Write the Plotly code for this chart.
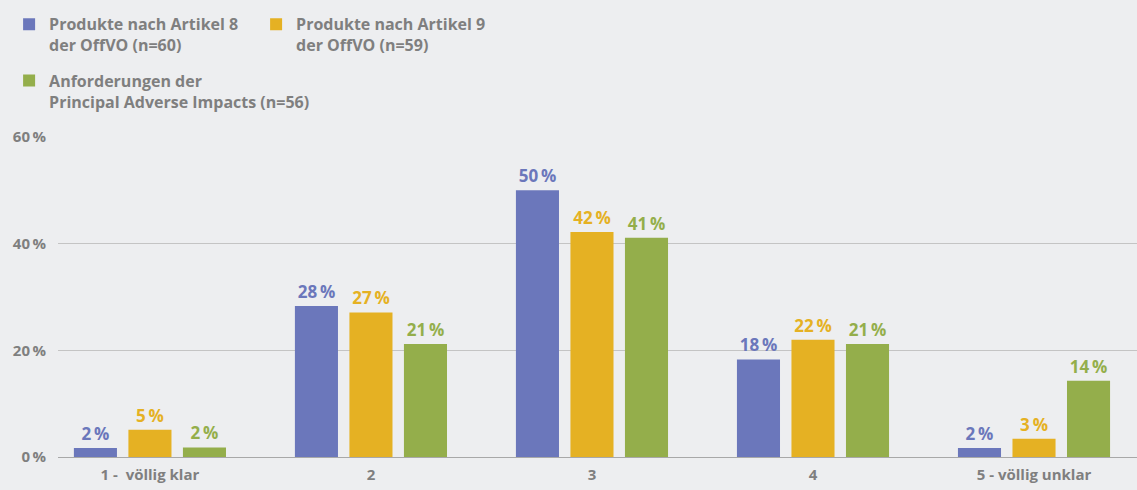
import plotly.graph_objects as go

categories = ["1 -  völlig klar", "2", "3", "4", "5 - völlig unklar"]

art8 = [1.7, 28.3, 50.0, 18.3, 1.7]
art9 = [5.1, 27.1, 42.2, 22.0, 3.4]
pai = [1.8, 21.2, 41.1, 21.2, 14.3]

series_names = [
    "Produkte nach Artikel 8<br>der OffVO (n=60)",
    "Produkte nach Artikel 9<br>der OffVO (n=59)",
    "Anforderungen der<br>Principal Adverse Impacts (n=56)",
]
colors = ["#6b77bb", "#e5b123", "#94ae4b"]
legends = ["legend", "legend", "legend2"]

y_ticks = [0, 20, 40, 60]
y_tick_labels = ["0\u2009%", "20\u2009%", "40\u2009%", "60\u2009%"]

BG = "#edeef0"
GRAY = "#7f7f7f"
FONT = "Open Sans"

fig = go.Figure()

for name, vals, col, lg in zip(series_names, [art8, art9, pai], colors, legends):
    fig.add_trace(go.Bar(
        x=categories,
        y=vals,
        name=name,
        marker=dict(color=col, line=dict(width=0)),
        texttemplate="%{y:.0f}\u2009%",
        textposition="outside",
        textfont=dict(family=FONT, size=17, color=col, weight=700),
        cliponaxis=False,
        legend=lg,
    ))

fig.update_layout(
    width=1137,
    height=490,
    paper_bgcolor=BG,
    plot_bgcolor=BG,
    margin=dict(l=58, r=0, t=137, b=33),
    barmode="group",
    bargap=0.26,
    bargroupgap=0.21,
    font=dict(family=FONT, color=GRAY),
    legend=dict(
        orientation="h",
        xref="container", yref="container",
        x=0.008, y=0.985, xanchor="left", yanchor="top",
        entrywidth=202, entrywidthmode="pixels",
        valign="top",
        font=dict(family=FONT, size=16, color=GRAY, weight=700),
        bgcolor="rgba(0,0,0,0)",
        traceorder="normal",
    ),
    legend2=dict(
        orientation="h",
        xref="container", yref="container",
        x=0.008, y=0.87, xanchor="left", yanchor="top",
        valign="top",
        font=dict(family=FONT, size=16, color=GRAY, weight=700),
        bgcolor="rgba(0,0,0,0)",
    ),
    xaxis=dict(
        range=[-0.416, 4.466],
        showgrid=False,
        showline=True,
        linecolor="#a8a8a8",
        linewidth=1,
        ticks="outside",
        ticklen=4,
        tickcolor=BG,
        tickfont=dict(family=FONT, size=15, color=GRAY, weight=700),
    ),
    yaxis=dict(
        range=[0, 60],
        tickvals=y_ticks,
        ticktext=y_tick_labels,
        showgrid=True,
        gridcolor="#c4c4c4",
        gridwidth=1,
        zeroline=False,
        tickfont=dict(family=FONT, size=15, color=GRAY, weight=700),
        ticks="outside",
        ticklen=8,
        tickcolor=BG,
    ),
)

fig.write_html(
    "out.html",
    config={"displayModeBar": False},
    post_script="document.body.style.margin='0';",
)
